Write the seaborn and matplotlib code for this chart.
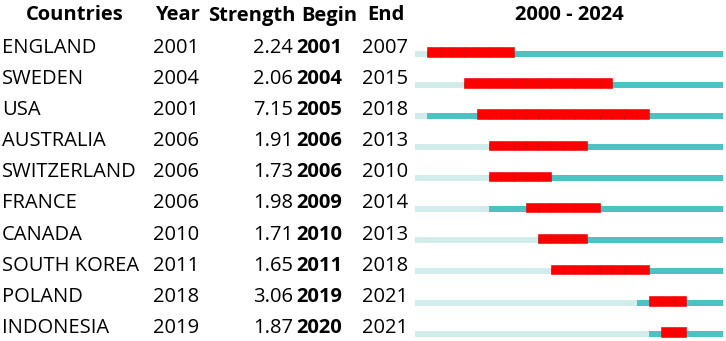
import matplotlib
matplotlib.use('Agg')
import matplotlib.pyplot as plt
import seaborn as sns

# Citation burst data (countries)
countries = ['ENGLAND', 'SWEDEN', 'USA', 'AUSTRALIA', 'SWITZERLAND',
             'FRANCE', 'CANADA', 'SOUTH KOREA', 'POLAND', 'INDONESIA']
years = [2001, 2004, 2001, 2006, 2006, 2006, 2010, 2011, 2018, 2019]
strength = [2.24, 2.06, 7.15, 1.91, 1.73, 1.98, 1.71, 1.65, 3.06, 1.87]
begin = [2001, 2004, 2005, 2006, 2006, 2009, 2010, 2011, 2019, 2020]
end = [2007, 2015, 2018, 2013, 2010, 2014, 2013, 2018, 2021, 2021]
range_start, range_end = 2000, 2024

sns.set_theme(style='white')
plt.rcParams['font.family'] = ['Open Sans', 'DejaVu Sans']
plt.rcParams['text.color'] = 'black'

W, H = 726, 341
fig = plt.figure(figsize=(W / 100, H / 100), dpi=100)

light = '#d2ecec'
teal = '#4cc2c2'
red = '#ff0000'

# bar axes: x in years, y in rows
row0, dy = 53.7, 31.1
ax = fig.add_axes([415 / W, 0, 308 / W, 1])
ax.set_xlim(range_start, range_end + 1)
ax.set_ylim((H - row0) / dy, -row0 / dy)
ax.axis('off')

th = 6 / dy
rh = 9.5 / dy
for i in range(len(countries)):
    ax.barh(i, range_end + 1 - range_start, left=range_start, height=th,
            color=light, linewidth=0)
    ax.barh(i, range_end + 1 - years[i], left=years[i], height=th,
            color=teal, linewidth=0)
    for yr in range(begin[i], end[i] + 1):
        ax.barh(i + th / 2, 1, left=yr, height=-rh, align='edge',
                color=red, edgecolor='#e60000', linewidth=0.4)

fs = 14.5


def px(x, y):
    return x / W, 1 - y / H


hy = 20.5
bold = dict(va='baseline', ha='center', fontsize=fs, fontweight='bold')
fig.text(*px(75, hy), 'Countries', **bold)
fig.text(*px(177, hy), 'Year', **bold)
fig.text(*px(252, hy), 'Strength', **bold)
fig.text(*px(329, hy), 'Begin', **bold)
fig.text(*px(386, hy), 'End', **bold)
fig.text(*px(569, hy), f'{range_start} - {range_end}', **bold)

for i in range(len(countries)):
    y = 53 + i * dy
    fig.text(*px(2, y), countries[i], ha='left', va='baseline', fontsize=fs)
    fig.text(*px(153, y), str(years[i]), ha='left', va='baseline', fontsize=fs)
    fig.text(*px(293, y), f'{strength[i]:.2f}', ha='right', va='baseline', fontsize=fs)
    fig.text(*px(296, y), str(begin[i]), ha='left', va='baseline', fontsize=fs, fontweight='bold')
    fig.text(*px(362, y), str(end[i]), ha='left', va='baseline', fontsize=fs)

fig.savefig('out.png', dpi=100, facecolor='white')
